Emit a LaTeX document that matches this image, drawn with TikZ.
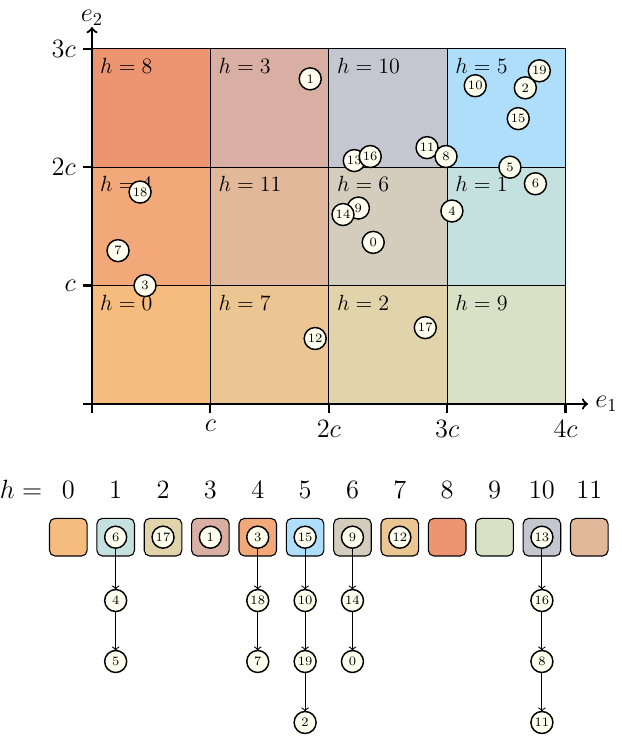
\documentclass[tikz,border=0pt]{standalone}
\definecolor{h0}{HTML}{F5BC7D}
\definecolor{h1}{HTML}{C4E1E0}
\definecolor{h2}{HTML}{E2D4AA}
\definecolor{h3}{HTML}{D9AFA3}
\definecolor{h4}{HTML}{F2A878}
\definecolor{h5}{HTML}{AFDEFB}
\definecolor{h6}{HTML}{D4CDBE}
\definecolor{h7}{HTML}{EBC592}
\definecolor{h8}{HTML}{ED9571}
\definecolor{h9}{HTML}{D8E1C6}
\definecolor{h10}{HTML}{C5C7D0}
\definecolor{h11}{HTML}{E2B89A}
\definecolor{ptfill}{HTML}{FFFFF0}
\begin{document}
\begin{tikzpicture}[%
    x=2.27cm,y=2.27cm,
    every node/.style={%
      inner sep=0pt,outer sep=0pt,minimum size=0pt},
    pt/.style={draw,circle,thick,fill=ptfill,minimum size=12pt,
      inner sep=0.5pt,font=\scriptsize},
    hlab/.style={anchor=north west,inner xsep=4.5pt,inner ysep=5pt,font=\large},
    bk/.style={draw,semithick,rounded corners=3pt,minimum size=20.5pt},
    tk/.style={font=\Large,inner sep=4pt},
    ]
    \useasboundingbox (-0.777,-2.838) rectangle (4.476,3.412);
    % cells
    \fill[h0](0,0)rectangle(1,1);
    \fill[h7](1,0)rectangle(2,1);
    \fill[h2](2,0)rectangle(3,1);
    \fill[h9](3,0)rectangle(4,1);
    \fill[h4](0,1)rectangle(1,2);
    \fill[h11](1,1)rectangle(2,2);
    \fill[h6](2,1)rectangle(3,2);
    \fill[h1](3,1)rectangle(4,2);
    \fill[h8](0,2)rectangle(1,3);
    \fill[h3](1,2)rectangle(2,3);
    \fill[h10](2,2)rectangle(3,3);
    \fill[h5](3,2)rectangle(4,3);
    \draw[semithick](0,0)rectangle(4,3);
    \draw[semithick](1,0)--(1,3) (2,0)--(2,3) (3,0)--(3,3);
    \draw[semithick](0,1)--(4,1) (0,2)--(4,2);
    \node[hlab] (c0) at(0,1){$h=0$};
    \node[hlab] (c7) at(1,1){$h=7$};
    \node[hlab] (c2) at(2,1){$h=2$};
    \node[hlab] (c9) at(3,1){$h=9$};
    \node[hlab] (c4) at(0,2){$h=4$};
    \node[hlab] (c11)at(1,2){$h=11$};
    \node[hlab] (c6) at(2,2){$h=6$};
    \node[hlab] (c1) at(3,2){$h=1$};
    \node[hlab] (c8) at(0,3){$h=8$};
    \node[hlab] (c3) at(1,3){$h=3$};
    \node[hlab] (c10)at(2,3){$h=10$};
    \node[hlab] (c5) at(3,3){$h=5$};
    % axes
    \coordinate (org) at (0,0);
    \node[tk,anchor=west] (ex) at(4.19,0){$e_1$};
    \node[tk,anchor=south,inner sep=1pt] (ey) at(0,3.184){$e_2$};
    \draw[very thick,->](org)--(ex.west);
    \draw[very thick,->](org)--(ey.south);
    \draw[very thick](0,0)--(0,-0.076);
    \draw[very thick](0,0)--(-0.076,0);
    \draw[very thick](1,0)--(1,-0.076)node[tk,anchor=north](xa){$c$};
    \draw[very thick](2,0)--(2,-0.076)node[tk,anchor=north](xb){$2c$};
    \draw[very thick](3,0)--(3,-0.076)node[tk,anchor=north](xc){$3c$};
    \draw[very thick](4,0)--(4,-0.076)node[tk,anchor=north](xd){$4c$};
    \draw[very thick](0,1)--(-0.076,1)node[tk,anchor=east](ya){$c$};
    \draw[very thick](0,2)--(-0.076,2)node[tk,anchor=east](yb){$2c$};
    \draw[very thick](0,3)--(-0.076,3)node[tk,anchor=east](yc){$3c$};
    % points
    \node[pt] (p1) at(1.843,2.746){1};
    \node[pt] (p10)at(3.237,2.688){10};
    \node[pt] (p2) at(3.66,2.67){2};
    \node[pt] (p19)at(3.778,2.814){19};
    \node[pt] (p15)at(3.60,2.41){15};
    \node[pt] (p11)at(2.83,2.165){11};
    \node[pt] (p8) at(2.99,2.09){8};
    \node[pt] (p13)at(2.215,2.056){13};
    \node[pt] (p16)at(2.35,2.09){16};
    \node[pt] (p5) at(3.53,2.0){5};
    \node[pt] (p6) at(3.745,1.86){6};
    \node[pt] (p18)at(0.406,1.79){18};
    \node[pt] (p4) at(3.04,1.63){4};
    \node[pt] (p9) at(2.25,1.655){9};
    \node[pt] (p14)at(2.12,1.60){14};
    \node[pt] (p0) at(2.375,1.365){0};
    \node[pt] (p7) at(0.22,1.295){7};
    \node[pt] (p3) at(0.448,1.0){3};
    \node[pt] (p12)at(1.885,0.553){12};
    \node[pt] (p17)at(2.815,0.645){17};
    % table
    \node[font=\Large,anchor=base] (hh) at(-0.6,-0.80){$h=$};
    \node[font=\Large,anchor=base] (n0) at(-0.2,-0.80){$0$};
    \node[font=\Large,anchor=base] (n1) at(0.2,-0.80){$1$};
    \node[font=\Large,anchor=base] (n2) at(0.6,-0.80){$2$};
    \node[font=\Large,anchor=base] (n3) at(1.0,-0.80){$3$};
    \node[font=\Large,anchor=base] (n4) at(1.4,-0.80){$4$};
    \node[font=\Large,anchor=base] (n5) at(1.8,-0.80){$5$};
    \node[font=\Large,anchor=base] (n6) at(2.2,-0.80){$6$};
    \node[font=\Large,anchor=base] (n7) at(2.6,-0.80){$7$};
    \node[font=\Large,anchor=base] (n8) at(3.0,-0.80){$8$};
    \node[font=\Large,anchor=base] (n9) at(3.4,-0.80){$9$};
    \node[font=\Large,anchor=base] (n10)at(3.8,-0.80){$10$};
    \node[font=\Large,anchor=base] (n11)at(4.2,-0.80){$11$};
    \node[bk,fill=h0] (b0) at(-0.2,-1.125){};
    \node[bk,fill=h1] (b1) at(0.2,-1.125){};
    \node[bk,fill=h2] (b2) at(0.6,-1.125){};
    \node[bk,fill=h3] (b3) at(1.0,-1.125){};
    \node[bk,fill=h4] (b4) at(1.4,-1.125){};
    \node[bk,fill=h5] (b5) at(1.8,-1.125){};
    \node[bk,fill=h6] (b6) at(2.2,-1.125){};
    \node[bk,fill=h7] (b7) at(2.6,-1.125){};
    \node[bk,fill=h8] (b8) at(3.0,-1.125){};
    \node[bk,fill=h9] (b9) at(3.4,-1.125){};
    \node[bk,fill=h10](b10)at(3.8,-1.125){};
    \node[bk,fill=h11](b11)at(4.2,-1.125){};
    % chains
    \node[pt] (l6) at(b1){6};
    \node[pt] (l4) at(0.2,-1.66){4};
    \node[pt] (l5) at(0.2,-2.175){5};
    \node[pt] (l17)at(b2){17};
    \node[pt] (l1) at(b3){1};
    \node[pt] (l3) at(b4){3};
    \node[pt] (l18)at(1.4,-1.66){18};
    \node[pt] (l7) at(1.4,-2.175){7};
    \node[pt] (l15)at(b5){15};
    \node[pt] (l10)at(1.8,-1.66){10};
    \node[pt] (l19)at(1.8,-2.175){19};
    \node[pt] (l2) at(1.8,-2.69){2};
    \node[pt] (l9) at(b6){9};
    \node[pt] (l14)at(2.2,-1.66){14};
    \node[pt] (l0) at(2.2,-2.175){0};
    \node[pt] (l12)at(b7){12};
    \node[pt] (l13)at(b10){13};
    \node[pt] (l16)at(3.8,-1.66){16};
    \node[pt] (l8) at(3.8,-2.175){8};
    \node[pt] (l11)at(3.8,-2.69){11};
    \draw[semithick,->](l6)--(l4);
    \draw[semithick,->](l4)--(l5);
    \draw[semithick,->](l3)--(l18);
    \draw[semithick,->](l18)--(l7);
    \draw[semithick,->](l15)--(l10);
    \draw[semithick,->](l10)--(l19);
    \draw[semithick,->](l19)--(l2);
    \draw[semithick,->](l9)--(l14);
    \draw[semithick,->](l14)--(l0);
    \draw[semithick,->](l13)--(l16);
    \draw[semithick,->](l16)--(l8);
    \draw[semithick,->](l8)--(l11);
  \end{tikzpicture}
\end{document}
